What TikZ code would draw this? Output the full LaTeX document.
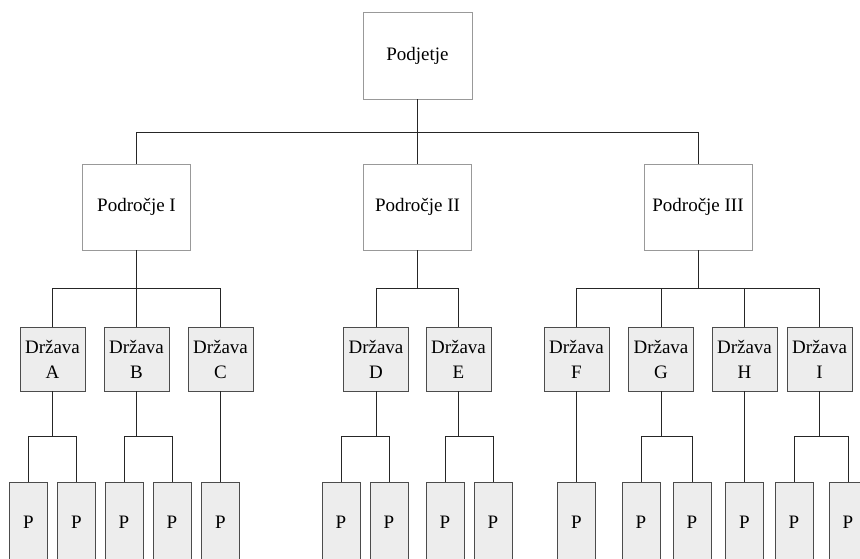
\documentclass[tikz,border=0pt]{standalone}
\usepackage{fontspec}
\setmainfont{Liberation Serif}

\tikzset{
	unit/.style={draw=black!40, fill=white, text=black, inner sep=0pt, minimum width=108pt, minimum height=86pt},
	country/.style={draw=black!70, fill=black!7, text=black, align=center, inner sep=0pt, minimum width=65pt, minimum height=64pt},
	plant/.style={draw=black!70, fill=black!7, text=black, inner sep=0pt, minimum width=38pt, minimum height=80pt},
	link/.style={draw=black!85, line width=0.9pt}
}

\begin{document}
\begin{tikzpicture}[x=1pt, y=-1pt, font=\fontsize{19}{25}\selectfont]
	\useasboundingbox (0,0) rectangle (860,559);
	% company and regions
	\node[unit, minimum width=109pt, minimum height=87pt] (firm) at (417.5,55.5) {Podjetje};
	\node[unit] (regI) at (136.5,207) {Področje I};
	\node[unit] (regII) at (417.5,207) {Področje II};
	\node[unit] (regIII) at (698,207) {Področje III};
	% countries
	\node[country] (drA) at (52.5,359) {Država\\A};
	\node[country] (drB) at (136.5,359) {Država\\B};
	\node[country] (drC) at (220.5,359) {Država\\C};
	\node[country] (drD) at (376,359) {Država\\D};
	\node[country] (drE) at (458.5,359) {Država\\E};
	\node[country] (drF) at (576.5,359) {Država\\F};
	\node[country] (drG) at (661,359) {Država\\G};
	\node[country] (drH) at (744.5,359) {Država\\H};
	\node[country] (drI) at (819.5,359) {Država\\I};
	% plants
	\node[plant] (pA1) at (28.5,522) {P};
	\node[plant] (pA2) at (76.5,522) {P};
	\node[plant] (pB1) at (124,522) {P};
	\node[plant] (pB2) at (172,522) {P};
	\node[plant] (pC) at (220.5,522) {P};
	\node[plant] (pD1) at (341,522) {P};
	\node[plant] (pD2) at (389,522) {P};
	\node[plant] (pE1) at (445,522) {P};
	\node[plant] (pE2) at (493,522) {P};
	\node[plant] (pF) at (576.5,522) {P};
	\node[plant] (pG1) at (641,522) {P};
	\node[plant] (pG2) at (692,522) {P};
	\node[plant] (pH) at (744.5,522) {P};
	\node[plant] (pI1) at (794,522) {P};
	\node[plant] (pI2) at (848,522) {P};
	% top level
	\draw[link] (firm.south) -- ++(0,33) -| (regI.north);
	\draw[link] (firm.south) -- ++(0,33) -| (regIII.north);
	\draw[link] (firm.south) -- (regII.north);
	% regions to countries
	\draw[link] (regI.south) -- ++(0,38) -| (drA.north);
	\draw[link] (regI.south) -- ++(0,38) -| (drC.north);
	\draw[link] (regI.south) -- (drB.north);
	\draw[link] (regII.south) -- ++(0,38) -| (drD.north);
	\draw[link] (regII.south) -- ++(0,38) -| (drE.north);
	\draw[link] (regIII.south) -- ++(0,38) -| (drF.north);
	\draw[link] (regIII.south) -- ++(0,38) -| (drG.north);
	\draw[link] (regIII.south) -- ++(0,38) -| (drH.north);
	\draw[link] (regIII.south) -- ++(0,38) -| (drI.north);
	% countries to plants
	\draw[link] (drA.south) -- ++(0,45) -| (pA1.north);
	\draw[link] (drA.south) -- ++(0,45) -| (pA2.north);
	\draw[link] (drB.south) -- ++(0,45) -| (pB1.north);
	\draw[link] (drB.south) -- ++(0,45) -| (pB2.north);
	\draw[link] (drC.south) -- (pC.north);
	\draw[link] (drD.south) -- ++(0,45) -| (pD1.north);
	\draw[link] (drD.south) -- ++(0,45) -| (pD2.north);
	\draw[link] (drE.south) -- ++(0,45) -| (pE1.north);
	\draw[link] (drE.south) -- ++(0,45) -| (pE2.north);
	\draw[link] (drF.south) -- (pF.north);
	\draw[link] (drG.south) -- ++(0,45) -| (pG1.north);
	\draw[link] (drG.south) -- ++(0,45) -| (pG2.north);
	\draw[link] (drH.south) -- (pH.north);
	\draw[link] (drI.south) -- ++(0,45) -| (pI1.north);
	\draw[link] (drI.south) -- ++(0,45) -| (pI2.north);
\end{tikzpicture}
\end{document}
